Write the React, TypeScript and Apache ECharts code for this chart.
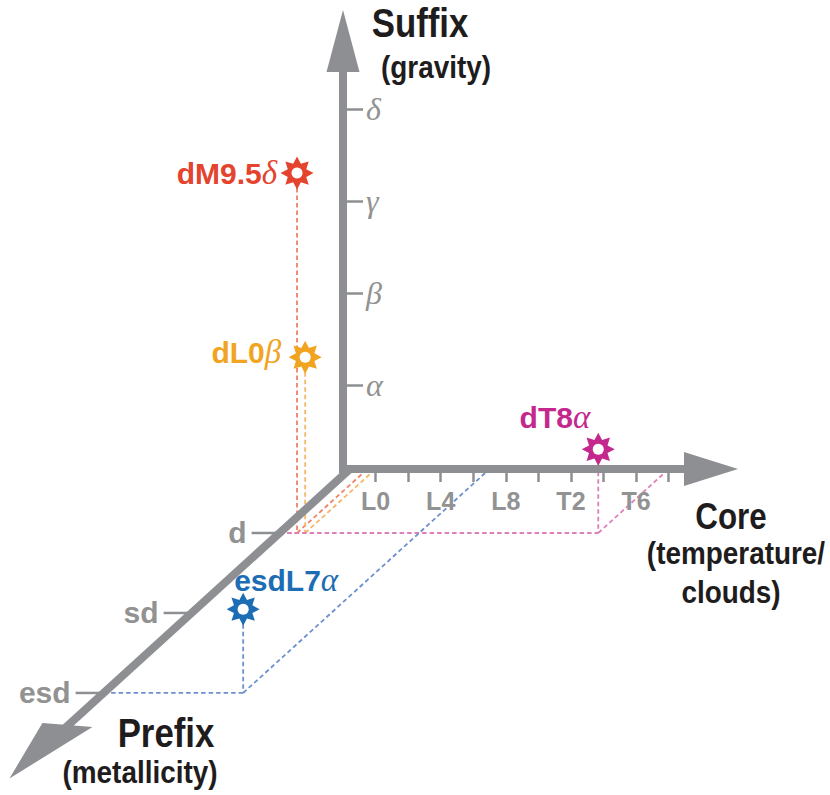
import React, { useEffect, useRef } from "react";
import * as echarts from "echarts";

// ---------- data ----------
const coreTickValues = [0, 2, 4, 6, 8, 10, 12, 14, 16, 18];
const coreLabelValues = [0, 4, 8, 12, 16];
const coreLabelNames = ["L0", "L4", "L8", "T2", "T6"];

const suffixValues = [1, 2, 3, 4];
const suffixNames = ["α", "β", "γ", "δ"];

const prefixNames = ["d", "sd", "esd"];
const prefixDepths = [0.8, 1.8, 2.8];

const objectNames = ["dM9.5", "dL0", "dT8", "esdL7"];
const objectGreek = ["δ", "β", "α", "α"];
const objectCore = [-0.5, 0, 18, 7];
const objectPrefixDepth = [0.8, 0.8, 0.8, 2.8];
const objectSuffix = [4, 2, 1, 1];

// ---------- layout / style ----------
const CORE_MIN = -2;
const CORE_MAX = 20.6;
const SUF_MIN = 0.09;
const SUF_MAX = 4.74;
const K_C = -5.404; // oblique projection: core units per prefix unit
const K_S = -0.869; // oblique projection: suffix units per prefix unit
const PREFIX_ORIGIN_CORE = -1.57;
const PREFIX_BASE_DEPTH = 3.2;
const PREFIX_TIP_DEPTH = 3.87;

const GRAY = "#8d8f92";
const LABEL_GRAY = "#929292";
const TITLE = "#1f1c1d";
const SANS = '"Liberation Sans", Arial, sans-serif';
const SERIF = '"Liberation Serif", "Times New Roman", serif';
const objectColors = ["#e4432d", "#f0a41f", "#c4288c", "#1d6db4"];
const dashColors = ["#ee8366", "#f5b765", "#de7fbc", "#6e8fcd"];
const labelOffsets: [number, number, string][] = [
  [-20, 0, "right"],
  [-24, -5, "right"],
  [-8, -32, "right"],
  [-9, -29, "left"],
];

const proj = (core: number, depth: number, suf: number) => [core + depth * K_C, suf + depth * K_S];

function starPoints(cx: number, cy: number, n: number, R: number, r: number) {
  const pts: number[][] = [];
  for (let k = 0; k < 2 * n; k++) {
    const a = -Math.PI / 2 + (k * Math.PI) / n;
    const rr = k % 2 === 0 ? R : r;
    pts.push([cx + rr * Math.cos(a), cy + rr * Math.sin(a)]);
  }
  return pts;
}

export default function App() {
  const ref = useRef<HTMLDivElement>(null);
  useEffect(() => {
    if (!ref.current) return;
    const chart = echarts.init(ref.current, undefined, { renderer: "svg" });
    const titleText = (text: string, x: number, y: number, size: number, sx: number) => ({
      type: "text",
      x,
      y,
      scaleX: sx,
      z: 20,
      style: {
        text,
        fontFamily: SANS,
        fontWeight: "bold",
        fontSize: size,
        fill: TITLE,
        align: "center",
        verticalAlign: "middle",
        textAlign: "center",
        textVerticalAlign: "middle",
      },
    });

    const option: any = {
      animation: false,
      backgroundColor: "#ffffff",
      grid: { left: 343, right: 119, top: 41, bottom: 326, containLabel: false, outerBoundsMode: "none" },
      xAxis: {
        type: "value",
        min: CORE_MIN,
        max: CORE_MAX,
        z: 5,
        axisLine: {
          show: true,
          onZero: false,
          symbol: ["none", "triangle"],
          symbolSize: [34, 54],
          lineStyle: { color: GRAY, width: 8, cap: "square" },
        },
        axisTick: { show: true, length: 13, customValues: coreTickValues, lineStyle: { color: GRAY, width: 2.5 } },
        axisLabel: {
          show: true,
          customValues: coreLabelValues,
          formatter: (v: number) => coreLabelNames[coreLabelValues.indexOf(v)] ?? "",
          color: LABEL_GRAY,
          fontFamily: SANS,
          fontWeight: "bold",
          fontSize: 25,
          margin: 19,
        },
        splitLine: { show: false },
      },
      yAxis: {
        type: "value",
        min: SUF_MIN,
        max: SUF_MAX,
        z: 5,
        axisLine: {
          show: true,
          onZero: false,
          symbol: ["none", "triangle"],
          symbolSize: [33, 62],
          lineStyle: { color: GRAY, width: 8, cap: "square" },
        },
        axisTick: { show: true, inside: true, length: 20, customValues: suffixValues, lineStyle: { color: GRAY, width: 2.5 } },
        axisLabel: {
          show: true,
          inside: true,
          margin: 23,
          customValues: suffixValues,
          formatter: (v: number) => suffixNames[suffixValues.indexOf(v)] ?? "",
          color: LABEL_GRAY,
          fontFamily: SERIF,
          fontStyle: "italic",
          fontSize: 32,
        },
        splitLine: { show: false },
      },
      graphic: [
        titleText("Suffix", 420, 23, 40, 0.87),
        titleText("(gravity)", 436, 67, 31, 0.9),
        titleText("Core", 731, 516, 36, 0.87),
        titleText("(temperature/", 736, 553, 31, 0.9),
        titleText("clouds)", 731, 592, 31, 0.9),
        titleText("Prefix", 166, 733, 40, 0.87),
        titleText("(metallicity)", 140, 772, 31, 0.9),
      ],
      series: [
        {
          type: "custom",
          name: "projections",
          z: 2,
          clip: false,
          data: objectCore.map((c, i) => [c, objectSuffix[i], objectPrefixDepth[i]]),
          renderItem: (params: any, api: any) => {
            const i = params.dataIndex;
            const c = api.value(0);
            const s = api.value(1);
            const d = api.value(2);
            const S = api.coord(proj(c, d, s));
            const F = api.coord(proj(c, d, SUF_MIN));
            const A = api.coord([c, SUF_MIN]);
            const B = api.coord(proj(PREFIX_ORIGIN_CORE, d, SUF_MIN));
            const style = { stroke: dashColors[i], lineWidth: 1.8, lineDash: [4.5, 3], fill: null };
            return {
              type: "group",
              children: [
                { type: "line", shape: { x1: S[0], y1: S[1], x2: F[0], y2: F[1] }, style },
                { type: "line", shape: { x1: F[0], y1: F[1], x2: A[0], y2: A[1] }, style },
                { type: "line", shape: { x1: B[0], y1: B[1], x2: F[0], y2: F[1] }, style },
              ],
            };
          },
        },
        {
          type: "custom",
          name: "prefixAxis",
          z: 3,
          clip: false,
          data: [[PREFIX_ORIGIN_CORE, SUF_MIN]],
          renderItem: (params: any, api: any) => {
            const O = api.coord(proj(PREFIX_ORIGIN_CORE, 0, SUF_MIN));
            const E = api.coord(proj(PREFIX_ORIGIN_CORE, PREFIX_BASE_DEPTH + 0.1, SUF_MIN));
            const base = api.coord(proj(PREFIX_ORIGIN_CORE, PREFIX_BASE_DEPTH, SUF_MIN));
            const tip = api.coord(proj(PREFIX_ORIGIN_CORE, PREFIX_TIP_DEPTH, SUF_MIN));
            return {
              type: "group",
              children: [
                { type: "line", shape: { x1: O[0], y1: O[1], x2: E[0], y2: E[1] }, style: { stroke: GRAY, lineWidth: 8 } },
                {
                  type: "polygon",
                  shape: { points: [tip, [base[0] - 26, base[1] - 2], [base[0] + 24, base[1] + 2]] },
                  style: { fill: GRAY },
                },
              ],
            };
          },
        },
        {
          type: "custom",
          name: "prefixTicks",
          z: 3,
          clip: false,
          data: prefixDepths.map((d) => [d]),
          renderItem: (params: any, api: any) => {
            const i = params.dataIndex;
            const B = api.coord(proj(PREFIX_ORIGIN_CORE, api.value(0), SUF_MIN));
            return {
              type: "group",
              children: [
                { type: "line", shape: { x1: B[0] - 28, y1: B[1], x2: B[0], y2: B[1] }, style: { stroke: GRAY, lineWidth: 2.5 } },
                {
                  type: "text",
                  x: B[0] - 33,
                  y: B[1],
                  style: {
                    text: prefixNames[i],
                    fontFamily: SANS,
                    fontWeight: "bold",
                    fontSize: 30,
                    fill: LABEL_GRAY,
                    align: "right",
                    verticalAlign: "middle",
                    textAlign: "right",
                    textVerticalAlign: "middle",
                  },
                },
              ],
            };
          },
        },
        {
          type: "custom",
          name: "objects",
          z: 10,
          clip: false,
          data: objectCore.map((c, i) => [c, objectSuffix[i], objectPrefixDepth[i]]),
          renderItem: (params: any, api: any) => {
            const i = params.dataIndex;
            const S = api.coord(proj(api.value(0), api.value(2), api.value(1)));
            const col = objectColors[i];
            const off = labelOffsets[i];
            return {
              type: "group",
              children: [
                { type: "polygon", shape: { points: starPoints(S[0], S[1], 8, 16.5, 10) }, style: { fill: col } },
                { type: "circle", shape: { cx: S[0], cy: S[1], r: 5.5 }, style: { fill: "#ffffff" } },
                {
                  type: "text",
                  x: S[0] + off[0],
                  y: S[1] + off[1],
                  style: {
                    text: `{n|${objectNames[i]}}{g|${objectGreek[i]}}`,
                    rich: {
                      n: { fontFamily: SANS, fontWeight: "bold", fontSize: 30, fill: col },
                      g: { fontFamily: SERIF, fontStyle: "italic", fontSize: 33, fill: col },
                    },
                    align: off[2],
                    verticalAlign: "middle",
                    textAlign: off[2],
                    textVerticalAlign: "middle",
                  },
                },
              ],
            };
          },
        },
      ],
    };
    chart.setOption(option);
    return () => chart.dispose();
  }, []);
  return <div ref={ref} style={{ position: "fixed", left: 0, top: 0, width: 830, height: 795 }} />;
}
